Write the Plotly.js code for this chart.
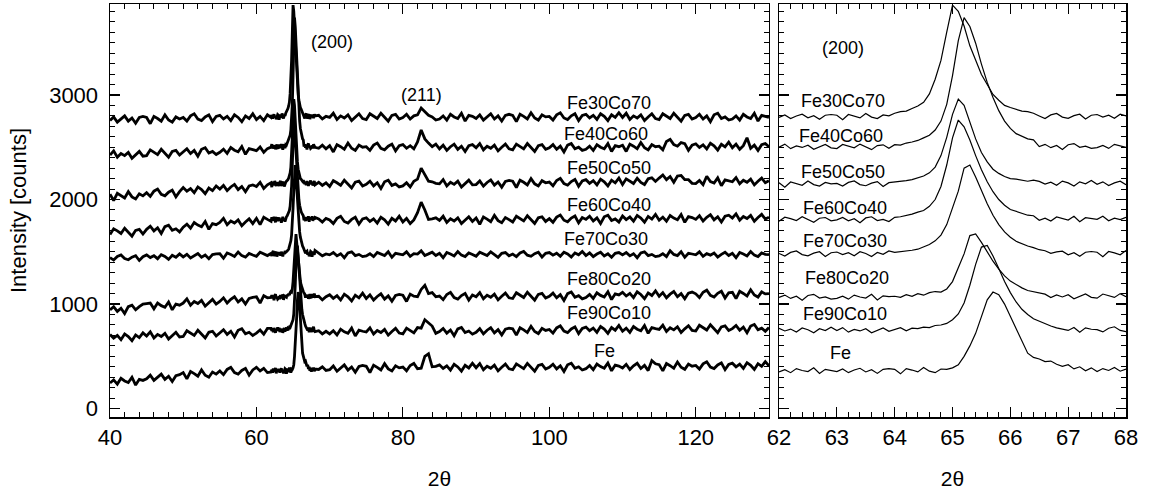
<!DOCTYPE html>
<html>
<head>
<meta charset="utf-8">
<script src="https://cdn.plot.ly/plotly-3.0.1.min.js"></script>
<style>html,body{margin:0;padding:0;background:#fff}</style>
</head>
<body>
<div id="chart" style="width:1149px;height:490px"></div>
<script>
// ---------- data ----------
const sampleNames = ['Fe30Co70','Fe40Co60','Fe50Co50','Fe60Co40','Fe70Co30','Fe80Co20','Fe90Co10','Fe'];

// 2theta grids
const xLo = [40,40.5,41,41.5,42,42.5,43,43.5,44,44.5,
             45,45.5,46,46.5,47,47.5,48,48.5,49,49.5,
             50,50.5,51,51.5,52,52.5,53,53.5,54,54.5,
             55,55.5,56,56.5,57,57.5,58,58.5,59,59.5,
             60,60.5,61,61.5];
const xPk = [62.0,62.1,62.2,62.3,62.4,62.5,62.6,62.7,62.8,62.9,
             63.0,63.1,63.2,63.3,63.4,63.5,63.6,63.7,63.8,63.9,
             64.0,64.1,64.2,64.3,64.4,64.5,64.6,64.7,64.8,64.9,
             65.0,65.1,65.2,65.3,65.4,65.5,65.6,65.7,65.8,65.9,
             66.0,66.1,66.2,66.3,66.4,66.5,66.6,66.7,66.8,66.9,
             67.0,67.1,67.2,67.3,67.4,67.5,67.6,67.7,67.8,67.9,
             68.0];
const xHi = [68.5,69,69.5,
             70,70.5,71,71.5,72,72.5,73,73.5,74,74.5,
             75,75.5,76,76.5,77,77.5,78,78.5,79,79.5,
             80,80.5,81,81.5,82,82.5,83,83.5,84,84.5,
             85,85.5,86,86.5,87,87.5,88,88.5,89,89.5,
             90,90.5,91,91.5,92,92.5,93,93.5,94,94.5,
             95,95.5,96,96.5,97,97.5,98,98.5,99,99.5,
             100,100.5,101,101.5,102,102.5,103,103.5,104,104.5,
             105,105.5,106,106.5,107,107.5,108,108.5,109,109.5,
             110,110.5,111,111.5,112,112.5,113,113.5,114,114.5,
             115,115.5,116,116.5,117,117.5,118,118.5,119,119.5,
             120,120.5,121,121.5,122,122.5,123,123.5,124,124.5,
             125,125.5,126,126.5,127,127.5,128,128.5,129,129.5,
             130];

// Fe30Co70
const fe30co70Lo = [2755,2790,2740,2775,2800,2750,2780,2730,2785,2795,
  2785,2725,2795,2775,2750,2810,2760,2740,2790,2770,
  2785,2750,2800,2820,2770,2755,2790,2810,2745,2795,
  2805,2770,2795,2755,2810,2785,2745,2800,2775,2820,
  2765,2795,2755,2810];
const fe30co70Pk = [2785,2809,2774,2799,2816,2781,2802,2767,2806,2813,
  2806,2763,2813,2799,2781,2823,2788,2774,2809,2800,
  2825,2840,2845,2870,2895,2930,3010,3150,3330,3600,
  3860,3800,3660,3470,3335,3195,3100,3005,2950,2900,
  2880,2865,2845,2840,2825,2799,2774,2809,2823,2788,
  2777,2802,2816,2770,2806,2813,2788,2806,2777,2816,
  2799];
const fe30co70Hi = [2805,2770,2795,
  2785,2825,2765,2800,2780,2810,2755,2790,2820,2775,
  2765,2820,2800,2775,2825,2785,2750,2805,2815,2770,
  2785,2815,2770,2800,2810,2875,2835,2805,2790,2760,
  2770,2800,2760,2815,2790,2775,2825,2750,2805,2795,
  2775,2810,2760,2795,2820,2770,2800,2750,2805,2815,
  2805,2745,2815,2795,2770,2830,2780,2760,2810,2790,
  2795,2760,2810,2830,2780,2765,2800,2820,2755,2805,
  2815,2780,2805,2765,2820,2795,2755,2810,2785,2830,
  2785,2825,2765,2800,2780,2810,2755,2790,2820,2775,
  2765,2820,2800,2775,2825,2785,2750,2805,2815,2770,
  2785,2815,2770,2800,2745,2810,2825,2775,2790,2760,
  2770,2800,2760,2815,2790,2775,2825,2750,2805,2795,
  2785];

// Fe40Co60
const fe40co60Lo = [2425,2465,2405,2440,2420,2450,2395,2430,2460,2415,
  2420,2475,2455,2430,2480,2440,2405,2460,2470,2425,
  2455,2485,2440,2470,2415,2480,2495,2445,2460,2430,
  2452,2482,2442,2497,2472,2457,2507,2432,2487,2477,
  2467,2502,2452,2487];
const fe40co60Pk = [2501,2530,2487,2512,2498,2519,2480,2505,2526,2494,
  2487,2526,2512,2494,2530,2501,2477,2516,2523,2491,
  2525,2520,2540,2550,2565,2590,2615,2665,2750,2910,
  3185,3520,3740,3655,3495,3295,3120,2975,2850,2750,
  2680,2630,2605,2580,2570,2506,2528,2496,2517,2478,
  2524,2535,2499,2510,2489,2496,2517,2489,2528,2510,
  2499];
const fe40co60Hi = [2490,2520,2485,
  2515,2455,2525,2505,2480,2540,2490,2470,2520,2500,
  2505,2470,2520,2540,2490,2475,2510,2530,2465,2515,
  2525,2490,2515,2485,2550,2665,2580,2540,2505,2530,
  2485,2520,2470,2505,2530,2480,2510,2460,2515,2525,
  2495,2535,2475,2510,2490,2520,2465,2500,2530,2485,
  2475,2530,2510,2485,2535,2495,2460,2515,2525,2480,
  2495,2525,2480,2510,2455,2520,2535,2485,2500,2470,
  2480,2510,2470,2525,2500,2485,2535,2460,2515,2505,
  2520,2460,2530,2510,2485,2545,2495,2475,2525,2505,
  2510,2475,2555,2575,2525,2510,2545,2535,2470,2520,
  2533,2498,2523,2483,2538,2513,2473,2528,2503,2548,
  2495,2530,2480,2515,2590,2490,2520,2470,2525,2535,
  2505];

// Fe50Co50
const fe50co50Lo = [2050,1990,2060,2040,2015,2075,2025,2005,2055,2035,
  2065,2030,2080,2100,2050,2035,2070,2090,2025,2075,
  2115,2080,2105,2065,2120,2095,2055,2110,2085,2130,
  2100,2135,2085,2120,2145,2095,2125,2075,2130,2140,
  2125,2165,2105,2140];
const fe50co50Pk = [2161,2118,2168,2154,2136,2178,2143,2129,2164,2150,
  2154,2129,2164,2178,2143,2132,2157,2171,2125,2161,
  2165,2175,2180,2190,2205,2225,2255,2310,2420,2595,
  2815,2960,2900,2740,2580,2450,2360,2290,2250,2220,
  2200,2195,2185,2175,2185,2173,2148,2166,2137,2176,
  2159,2130,2169,2151,2183,2145,2169,2134,2159,2176,
  2141];
const fe50co50Hi = [2165,2135,2160,
  2125,2180,2160,2135,2185,2145,2110,2165,2175,2130,
  2145,2175,2130,2160,2105,2170,2185,2135,2150,2120,
  2130,2160,2120,2175,2195,2300,2240,2175,2170,2155,
  2150,2190,2130,2165,2145,2175,2120,2155,2185,2140,
  2143,2178,2128,2163,2188,2138,2168,2118,2173,2183,
  2175,2115,2185,2165,2140,2200,2150,2130,2180,2160,
  2167,2132,2182,2202,2152,2137,2172,2192,2127,2177,
  2190,2155,2180,2140,2195,2170,2130,2185,2160,2205,
  2143,2198,2178,2153,2203,2163,2143,2198,2208,2173,
  2205,2235,2190,2220,2165,2225,2230,2190,2190,2155,
  2152,2182,2142,2222,2172,2157,2207,2132,2187,2177,
  2170,2210,2150,2185,2165,2195,2140,2175,2205,2160,
  2180];

// Fe60Co40
const fe60co40Lo = [1665,1720,1700,1675,1725,1685,1650,1705,1715,1670,
  1715,1745,1700,1730,1675,1740,1755,1705,1720,1690,
  1735,1765,1725,1780,1755,1740,1790,1715,1770,1760,
  1780,1820,1760,1795,1775,1805,1750,1785,1815,1770,
  1820,1760,1830,1810];
const fe60co40Pk = [1792,1831,1817,1799,1835,1806,1782,1821,1828,1796,
  1806,1828,1796,1817,1778,1824,1835,1799,1810,1789,
  1830,1835,1845,1860,1880,1895,1935,2000,2125,2330,
  2590,2760,2695,2570,2420,2285,2170,2075,2000,1945,
  1905,1885,1870,1850,1845,1801,1822,1794,1833,1815,
  1804,1840,1787,1826,1819,1811,1840,1797,1822,1808,
  1829];
const fe60co40Hi = [1815,1785,1820,
  1805,1770,1820,1840,1790,1775,1810,1830,1765,1815,
  1825,1790,1815,1775,1830,1805,1765,1820,1795,1840,
  1785,1820,1770,1805,1875,1975,1900,1810,1815,1825,
  1800,1840,1780,1815,1795,1825,1770,1805,1835,1790,
  1823,1763,1833,1813,1788,1848,1798,1778,1828,1808,
  1785,1840,1820,1795,1845,1805,1770,1825,1835,1790,
  1817,1782,1832,1852,1802,1787,1822,1842,1777,1827,
  1810,1840,1795,1825,1770,1835,1850,1800,1815,1785,
  1843,1808,1833,1793,1848,1823,1783,1838,1813,1858,
  1802,1832,1792,1847,1822,1807,1857,1782,1837,1827,
  1810,1845,1795,1830,1855,1805,1835,1785,1840,1850,
  1823,1863,1803,1838,1818,1848,1793,1828,1858,1813,
  1830];

// Fe70Co30
const fe70co30Lo = [1445,1421,1456,1470,1435,1424,1449,1463,1417,1453,
  1470,1445,1463,1434,1473,1456,1427,1466,1448,1480,
  1451,1476,1441,1466,1483,1448,1469,1434,1473,1480,
  1481,1438,1488,1474,1456,1498,1463,1449,1484,1470,
  1457,1496,1482,1464];
const fe70co30Pk = [1484,1459,1494,1508,1473,1462,1487,1501,1455,1491,
  1498,1473,1491,1462,1501,1484,1455,1494,1476,1508,
  1495,1500,1505,1515,1525,1545,1570,1605,1660,1760,
  1920,2080,2300,2330,2215,2085,1960,1850,1760,1690,
  1640,1600,1575,1555,1540,1520,1510,1485,1500,1506,
  1471,1492,1457,1496,1503,1496,1453,1503,1489,1471,
  1513];
const fe70co30Hi = [1485,1462,1480,
  1471,1493,1461,1482,1443,1489,1500,1464,1475,1454,
  1461,1482,1454,1493,1475,1464,1500,1447,1486,1479,
  1471,1500,1457,1482,1478,1509,1465,1480,1496,1464,
  1486,1443,1493,1479,1461,1503,1468,1454,1489,1475,
  1457,1496,1482,1464,1500,1471,1447,1486,1493,1461,
  1478,1454,1489,1503,1468,1457,1482,1496,1450,1486,
  1493,1468,1486,1457,1496,1479,1450,1489,1471,1503,
  1464,1489,1454,1479,1496,1461,1482,1447,1486,1493,
  1471,1493,1461,1482,1443,1489,1500,1464,1475,1454,
  1461,1482,1454,1510,1475,1464,1500,1447,1486,1479,
  1471,1500,1457,1482,1468,1489,1450,1475,1496,1464,
  1486,1443,1493,1479,1461,1503,1468,1454,1489,1475,
  1472];

// Fe80Co20
const fe80co20Lo = [945,975,930,960,910,975,990,945,975,1000,
  1005,1010,955,1010,985,970,1020,945,1000,990,
  1010,1050,990,1025,1005,1035,980,1015,1045,1000,
  1025,1060,1010,1045,1070,1020,1050,1000,1055,1065,
  1070,1010,1080,1060];
const fe80co20Pk = [1064,1086,1054,1075,1036,1082,1093,1057,1068,1047,
  1054,1075,1047,1086,1068,1057,1093,1040,1079,1072,
  1075,1065,1090,1075,1100,1085,1110,1120,1115,1145,
  1215,1340,1480,1655,1670,1590,1500,1410,1335,1270,
  1220,1185,1155,1130,1120,1105,1095,1062,1087,1068,
  1089,1050,1075,1096,1064,1057,1096,1082,1064,1100,
  1071];
const fe80co20Hi = [1075,1040,1070,
  1090,1055,1080,1040,1095,1070,1030,1085,1060,1105,
  1053,1088,1038,1073,1098,1048,1078,1028,1083,1093,
  1085,1025,1095,1075,1070,1140,1180,1100,1110,1070,
  1077,1042,1092,1112,1062,1047,1082,1102,1037,1087,
  1070,1110,1050,1085,1065,1095,1040,1075,1105,1060,
  1053,1108,1088,1063,1113,1073,1038,1093,1103,1058,
  1075,1105,1060,1090,1035,1100,1115,1065,1080,1050,
  1063,1093,1053,1108,1083,1068,1118,1043,1098,1088,
  1112,1077,1102,1062,1117,1092,1052,1107,1082,1127,
  1075,1110,1060,1095,1120,1070,1100,1050,1105,1115,
  1098,1063,1113,1133,1083,1068,1103,1123,1058,1108,
  1112,1052,1122,1102,1077,1137,1087,1067,1117,1097,
  1100];

// Fe90Co10
const fe90co10Lo = [710,675,700,660,715,690,650,705,680,725,
  695,735,675,710,690,720,665,700,730,685,
  690,745,725,700,750,710,675,730,740,695,
  725,755,710,740,685,750,765,715,730,700,
  722,752,712,767];
const fe90co10Pk = [768,743,761,732,771,754,725,764,746,778,
  746,775,732,757,743,764,725,750,771,739,
  755,775,745,770,765,780,775,795,800,815,
  850,905,1010,1180,1380,1545,1560,1460,1340,1215,
  1110,1020,950,900,860,835,815,790,773,762,
  748,776,730,773,759,755,734,769,783,748,
  737];
const fe90co10Hi = [745,715,740,
  715,745,705,760,735,720,770,695,750,740,
  733,773,713,748,728,758,703,738,768,723,
  715,770,750,725,775,770,850,815,790,720,
  737,767,722,752,697,762,777,727,742,712,
  730,765,715,750,775,725,755,705,760,770,
  763,703,773,753,728,788,738,718,768,748,
  757,722,772,792,742,727,762,782,717,767,
  780,745,770,730,785,760,720,775,750,795,
  740,770,730,785,760,745,795,720,775,765,
  758,798,738,773,753,783,728,763,793,748,
  742,797,777,752,802,762,727,782,792,747,
  765,795,750,780,725,790,805,755,770,740,
  775];

// Fe
const feLo = [245,275,235,290,265,250,300,225,280,270,
  285,320,270,305,330,280,310,260,315,325,
  345,285,355,335,310,370,320,300,350,330,
  360,325,375,395,345,330,365,385,320,370,
  395,360,385,345];
const fePk = [351,372,344,383,365,354,390,337,376,369,
  355,379,344,369,386,351,372,337,376,383,
  376,333,383,369,351,393,358,344,379,375,
  390,420,500,600,720,880,1040,1115,1090,1000,
  880,770,640,530,490,475,450,455,425,405,
  420,380,400,362,390,354,383,365,393,358,
  379];
const feHi = [375,400,365,
  373,408,358,393,418,368,398,348,403,413,
  405,345,415,395,370,430,380,360,410,390,
  397,362,412,432,382,387,500,525,400,405,
  419,384,409,369,424,399,359,414,389,434,
  391,431,371,406,386,416,361,396,426,381,
  373,428,408,383,433,393,358,413,423,378,
  395,425,380,410,355,420,435,385,400,370,
  382,412,372,427,402,387,437,362,417,407,
  389,424,374,409,434,384,414,364,459,429,
  421,361,431,411,386,446,396,376,426,406,
  413,378,428,448,398,383,418,438,373,423,
  435,400,425,385,440,415,375,430,405,450,
  410];

const loSeries = [fe30co70Lo, fe40co60Lo, fe50co50Lo, fe60co40Lo, fe70co30Lo, fe80co20Lo, fe90co10Lo, feLo];
const pkSeries = [fe30co70Pk, fe40co60Pk, fe50co50Pk, fe60co40Pk, fe70co30Pk, fe80co20Pk, fe90co10Pk, fePk];
const hiSeries = [fe30co70Hi, fe40co60Hi, fe50co50Hi, fe60co40Hi, fe70co30Hi, fe80co20Hi, fe90co10Hi, feHi];

// ---------- label placement (layout, not data) ----------
const leftLabelPos  = [[108.1,2927],[107.8,2626],[108.2,2297],[108.1,1948],[107.8,1620],[108.2,1236],[108.1,917],[107.5,554]];
const rightLabelPos = [[63.11,2947],[63.08,2609],[63.11,2265],[63.14,1922],[63.14,1601],[63.17,1249],[63.14,907],[63.07,534]];

const FONT = 'Liberation Sans, Arial, Helvetica, sans-serif';

const traces = [];
sampleNames.forEach((name, i) => {
  traces.push({
    type: 'scatter', mode: 'lines', name: name,
    x: xLo.concat(xPk, xHi),
    y: loSeries[i].concat(pkSeries[i], hiSeries[i]),
    xaxis: 'x', yaxis: 'y',
    line: {color: '#000', width: 2.8},
    hoverinfo: 'skip'
  });
  traces.push({
    type: 'scatter', mode: 'lines', name: name,
    x: xPk, y: pkSeries[i],
    xaxis: 'x2', yaxis: 'y2',
    line: {color: '#000', width: 1.2},
    hoverinfo: 'skip'
  });
});

const annotations = [];
sampleNames.forEach((name, i) => {
  annotations.push({xref:'x', yref:'y', x:leftLabelPos[i][0], y:leftLabelPos[i][1], text:name, showarrow:false, font:{family:FONT,size:18,color:'#000'}});
  annotations.push({xref:'x2', yref:'y2', x:rightLabelPos[i][0], y:rightLabelPos[i][1], text:name, showarrow:false, font:{family:FONT,size:18,color:'#000'}});
});
annotations.push({xref:'x', yref:'y', x:70.3, y:3506, text:'(200)', showarrow:false, font:{family:FONT,size:18,color:'#000'}});
annotations.push({xref:'x', yref:'y', x:82.5, y:3000, text:'(211)', showarrow:false, font:{family:FONT,size:18,color:'#000'}});
annotations.push({xref:'x2', yref:'y2', x:63.11, y:3446, text:'(200)', showarrow:false, font:{family:FONT,size:18,color:'#000'}});

const axisCommon = {
  ticks: 'inside', ticklen: 10, tickwidth: 1.2, tickcolor: '#000',
  showline: true, linecolor: '#000', linewidth: 1.5, mirror: 'ticks',
  showgrid: false, zeroline: false,
  tickfont: {family: FONT, size: 22, color: '#000'},
  automargin: false
};

const layout = {
  width: 1149, height: 490,
  margin: {l: 110, r: 23, t: 4, b: 73},
  paper_bgcolor: '#fff', plot_bgcolor: '#fff',
  showlegend: false,
  font: {family: FONT, color: '#000'},
  xaxis: Object.assign({}, axisCommon, {
    domain: [0, 0.6486], range: [40, 130], tick0: 0, dtick: 20, anchor: 'y',
    minor: {dtick: 2, ticklen: 5, tickwidth: 1, tickcolor: '#000', ticks: 'inside'},
    title: {text: '2θ', font: {family: FONT, size: 21, color: '#000'}, standoff: 22}
  }),
  yaxis: Object.assign({}, axisCommon, {
    domain: [0, 1], range: [-80, 3870], tick0: 0, dtick: 1000, anchor: 'x',
    ticklabelstandoff: 6,
    minor: {dtick: 100, ticklen: 5, tickwidth: 1, tickcolor: '#000', ticks: 'inside'},
    title: {text: 'Intensity [counts]', font: {family: FONT, size: 22, color: '#000'}, standoff: 16}
  }),
  xaxis2: Object.assign({}, axisCommon, {
    domain: [0.6585, 1], range: [62, 68], tick0: 62, dtick: 1, anchor: 'y2',
    minor: {dtick: 0.2, ticklen: 5, tickwidth: 1, tickcolor: '#000', ticks: 'inside'},
    title: {text: '2θ', font: {family: FONT, size: 21, color: '#000'}, standoff: 22}
  }),
  yaxis2: Object.assign({}, axisCommon, {
    domain: [0, 1], range: [-80, 3870], tick0: 0, dtick: 1000, anchor: 'x2',
    showticklabels: false,
    minor: {dtick: 100, ticklen: 5, tickwidth: 1, tickcolor: '#000', ticks: 'inside'}
  }),
  annotations: annotations
};

Plotly.newPlot('chart', traces, layout, {displayModeBar: false, staticPlot: true});
</script>
</body>
</html>
